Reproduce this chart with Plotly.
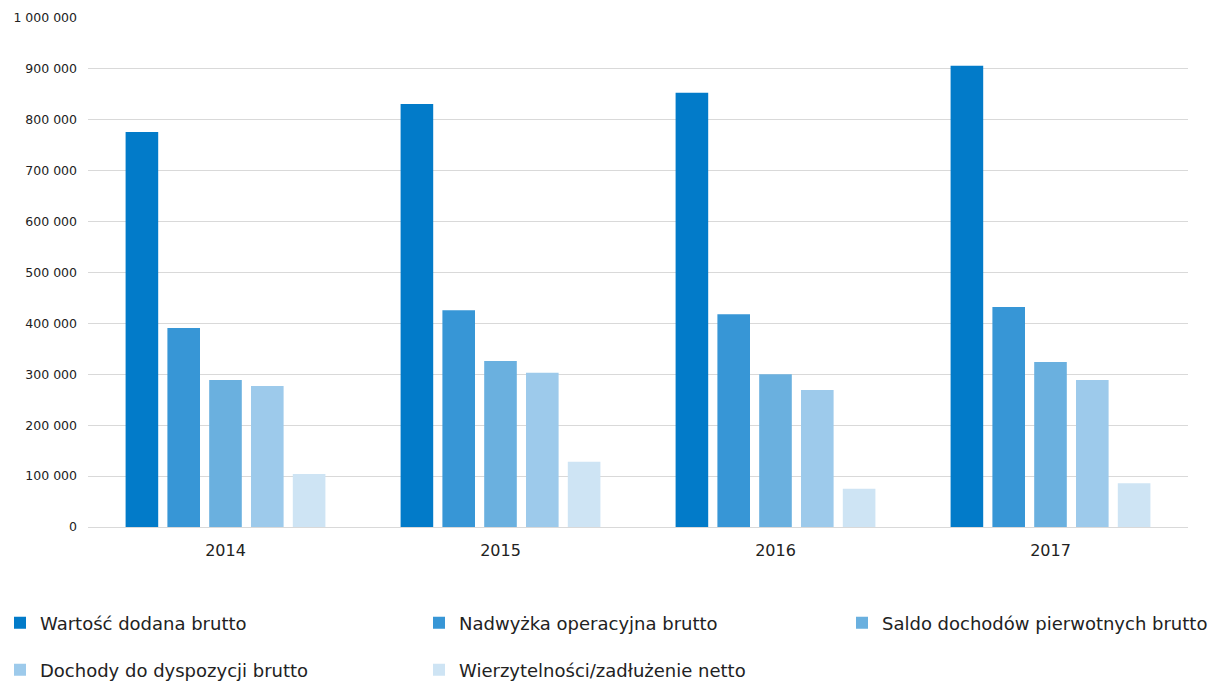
import plotly.graph_objects as go

years = ["2014", "2015", "2016", "2017"]
series_names = [
    "Wartość dodana brutto",
    "Nadwyżka operacyjna brutto",
    "Saldo dochodów pierwotnych brutto",
    "Dochody do dyspozycji brutto",
    "Wierzytelności/zadłużenie netto",
]
wartosc_dodana = [776000, 831000, 853000, 906000]
nadwyzka_operacyjna = [391000, 426000, 418000, 432000]
saldo_dochodow = [289000, 326000, 300000, 324000]
dochody_dyspozycji = [277000, 303000, 269000, 289000]
wierzytelnosci = [104000, 128000, 75000, 86000]

series_values = [wartosc_dodana, nadwyzka_operacyjna, saldo_dochodow, dochody_dyspozycji, wierzytelnosci]
colors = ["#027BC9", "#3796D6", "#6AB0DF", "#9DCAEB", "#CEE4F4"]

W, H = 1215, 682
FONT = "DejaVu Sans"
# legend slots (left px of legend box, centre y px)
legend_slots = [(0, 623), (419, 623), (842, 623), (0, 670), (419, 670)]

fig = go.Figure()
layout_legends = {}
for i, (name, vals, c) in enumerate(zip(series_names, series_values, colors)):
    lname = "legend" if i == 0 else f"legend{i+1}"
    fig.add_trace(go.Bar(x=years, y=vals, name=name, legend=lname,
                         marker=dict(color=c, line=dict(width=0))))
    lx, ly = legend_slots[i]
    layout_legends[lname] = dict(
        xref="container", yref="container",
        x=lx / W, y=1 - ly / H, xanchor="left", yanchor="middle",
        font=dict(size=18, family=FONT, color="#222222"),
        bgcolor="rgba(0,0,0,0)", itemwidth=30,
    )

fig.update_layout(
    width=W, height=H,
    paper_bgcolor="white", plot_bgcolor="white",
    margin=dict(l=88, r=27, t=18, b=155, autoexpand=False),
    barmode="group", bargap=0.24, bargroupgap=0.22,
    separators=", ",
    font=dict(family=FONT, color="#222222"),
    showlegend=True,
    **layout_legends,
)
fig.update_yaxes(
    range=[0, 1000000], dtick=100000, tickformat=",d",
    showgrid=True, gridcolor="#D9D9D9", gridwidth=1,
    zeroline=True, zerolinecolor="#D9D9D9", zerolinewidth=1,
    showline=False, ticks="", ticklen=0, ticklabelstandoff=10,
    tickfont=dict(size=12.5, color="#222222", family=FONT),
)
fig.update_xaxes(
    showline=False, ticks="", tickangle=0, ticklabelstandoff=12,
    tickfont=dict(size=16, color="#222222", family=FONT),
)
fig.write_html("out.html", config={"displayModeBar": False},
               post_script="document.body.style.margin='0';")
